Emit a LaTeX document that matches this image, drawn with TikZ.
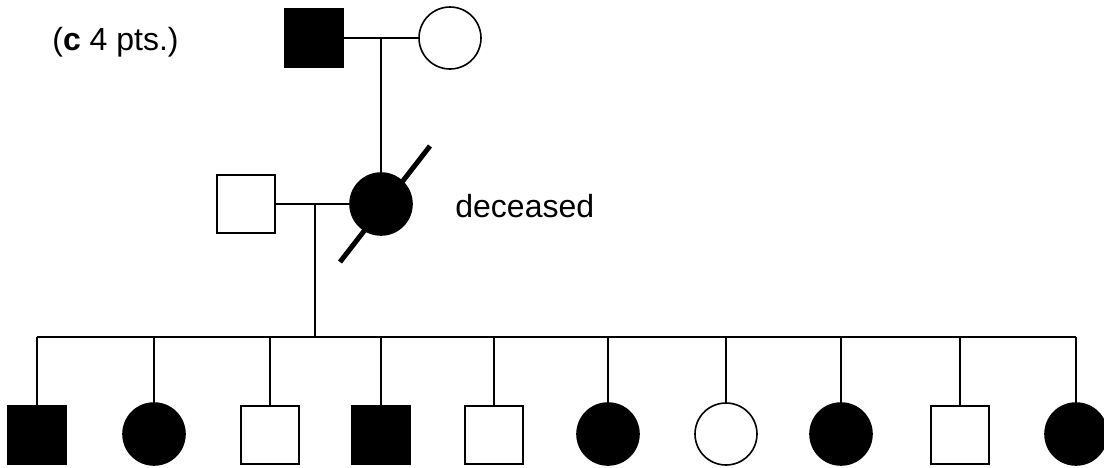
\documentclass[tikz,border=0pt]{standalone}
\usepackage{fontspec}
\setmainfont{Liberation Sans}
\usetikzlibrary{calc}
\begin{document}
\begin{tikzpicture}[x=0.5pt,y=-0.5pt,
  male/.style={draw,line width=0.8pt,minimum size=29pt,inner sep=0pt,outer sep=0pt},
  female/.style={circle,draw,line width=0.8pt,minimum size=31pt,inner sep=0pt,outer sep=0pt},
  aff/.style={fill=black},
  link/.style={line width=0.8pt},
  slash/.style={line width=2.5pt},
  lbl/.style={font=\fontsize{16}{19}\selectfont,anchor=base west,inner sep=0pt}]
\useasboundingbox (0,0) rectangle (1104,467);
% labels
\node[lbl] (title) at (52,50) {(\textbf{c} 4 pts.)};
\node[lbl] (dec) at (455,217) {deceased};
% generation I
\node[male,aff] (gf) at (314,38) {};
\node[female] (gm) at (450,38) {};
\coordinate (m1) at (381,38);
\draw[link] (gf) -- (gm);
% generation II
\node[male] (dad) at (246,204) {};
\node[female,aff] (mom) at (381,204) {};
\draw[link] (m1) -- (mom);
\draw[link] (dad) -- (mom);
\coordinate (m2) at (315,204);
\coordinate (s) at (315,337);
\draw[link] (m2) -- (s);
\coordinate (sl1) at (340,262);
\coordinate (sl2) at (430,146);
\draw[slash] (sl1) -- (sl2);
% generation III
\node[male,aff] (k1) at (37,435) {};
\node[female,aff] (k2) at (154,434) {};
\node[male] (k3) at (270,435) {};
\node[male,aff] (k4) at (381,435) {};
\node[male] (k5) at (494,435) {};
\node[female,aff] (k6) at (608,434) {};
\node[female] (k7) at (726,434) {};
\node[female,aff] (k8) at (841,434) {};
\node[male] (k9) at (960,435) {};
\node[female,aff] (k10) at (1076,434) {};
\draw[link] (k1 |- s) -- (k10 |- s);
\foreach \k in {k1,k2,k3,k4,k5,k6,k7,k8,k9,k10}
  \draw[link] (\k |- s) -- (\k);
\end{tikzpicture}
\end{document}
